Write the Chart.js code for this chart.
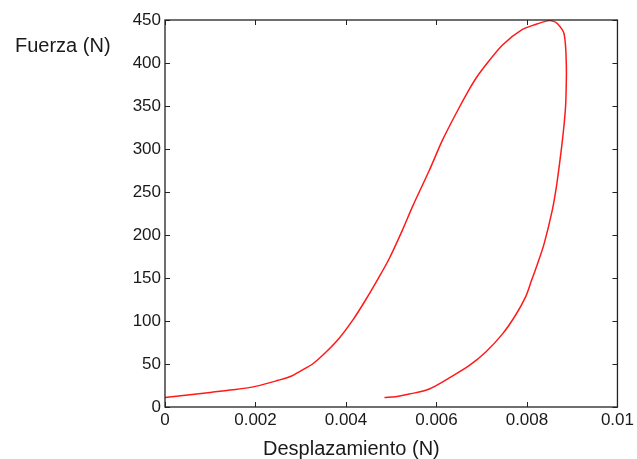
<!DOCTYPE html>
<html>
<head>
<meta charset="utf-8">
<script src="https://cdn.jsdelivr.net/npm/chart.js@4"></script>
<style>
html,body{margin:0;padding:0;background:#fff;}
canvas{display:block;}
</style>
</head>
<body>
<canvas id="c" width="637" height="459"></canvas>
<script>
// Loading branch (displacement, force)
const dispLoad  = [0, 0.0005, 0.001, 0.0015, 0.002, 0.0025, 0.0028, 0.0030, 0.00326, 0.00356, 0.00385, 0.00415, 0.00444, 0.00473, 0.00496, 0.00525, 0.00547, 0.00584, 0.00613, 0.00643, 0.00672, 0.00687, 0.00702, 0.00746, 0.0079, 0.0082, 0.00845];
const forceLoad = [11, 14, 17, 20, 24, 31, 36, 42, 50, 64, 80, 101, 125, 151, 173, 206, 233, 275, 310, 341, 369, 382, 393, 421, 439, 445, 449];
// Unloading branch
const dispUnload  = [0.00845, 0.00855, 0.00867, 0.00882, 0.00887, 0.00886, 0.00884, 0.0088, 0.00873, 0.00865, 0.00856, 0.00838, 0.00823, 0.0081, 0.00797, 0.00775, 0.00746, 0.00709, 0.00672, 0.00635, 0.00584, 0.0054, 0.0051, 0.00485];
const forceUnload = [449, 449, 446, 434, 397, 357, 340, 318, 287, 256, 229, 190, 166, 147, 128, 107, 85, 64, 48, 36, 21, 15, 12, 11];

const xTicks = [0, 0.002, 0.004, 0.006, 0.008, 0.01];
const yTicks = [0, 50, 100, 150, 200, 250, 300, 350, 400, 450];
const xTitle = 'Desplazamiento (N)';
const yTitle = 'Fuerza (N)';

const pts = [];
dispLoad.forEach((x, i) => pts.push({x: x, y: forceLoad[i]}));
dispUnload.forEach((x, i) => { if (i > 0) pts.push({x: x, y: forceUnload[i]}); });

const FONT = 'Arial, "Liberation Sans", sans-serif';
const TXT = '#1a1a1a';

const boxPlugin = {
  id: 'boxPlugin',
  afterDatasetsDraw(chart) {
    const ctx = chart.ctx, a = chart.chartArea;
    const xs = chart.scales.x, ys = chart.scales.y;
    ctx.save();
    ctx.strokeStyle = '#222';
    ctx.lineWidth = 1.3;
    ctx.strokeRect(a.left, a.top, a.right - a.left, a.bottom - a.top);
    ctx.lineWidth = 1;
    const L = 5;
    ctx.beginPath();
    xTicks.forEach(v => {
      const px = Math.round(xs.getPixelForValue(v)) + 0.5;
      ctx.moveTo(px, a.bottom); ctx.lineTo(px, a.bottom - L);
      ctx.moveTo(px, a.top); ctx.lineTo(px, a.top + L);
    });
    yTicks.forEach(v => {
      const py = Math.round(ys.getPixelForValue(v)) + 0.5;
      ctx.moveTo(a.left, py); ctx.lineTo(a.left + L, py);
      ctx.moveTo(a.right, py); ctx.lineTo(a.right - L, py);
    });
    ctx.stroke();
    ctx.fillStyle = TXT;
    ctx.font = '20px ' + FONT;
    ctx.textBaseline = 'middle';
    ctx.textAlign = 'left';
    ctx.fillText(yTitle, 15, 46);
    ctx.fillText(xTitle, 263, 449);
    ctx.restore();
  }
};

new Chart(document.getElementById('c'), {
  type: 'scatter',
  data: {
    datasets: [{
      data: pts,
      showLine: true,
      borderColor: '#ff1a1a',
      borderWidth: 1.5,
      pointRadius: 0,
      tension: 0.3,
      fill: false
    }]
  },
  options: {
    responsive: false,
    animation: false,
    devicePixelRatio: 1,
    layout: { padding: { left: 0, top: 20, right: 18, bottom: 0 } },
    plugins: { legend: { display: false }, tooltip: { enabled: false } },
    scales: {
      x: {
        type: 'linear', min: 0, max: 0.01,
        afterBuildTicks: s => { s.ticks = xTicks.map(v => ({value: v})); },
        afterFit: s => { s.height = 52; },
        grid: { display: false, drawTicks: false },
        border: { display: false },
        ticks: {
          padding: 3, color: TXT, font: { family: FONT, size: 17 },
          maxRotation: 0, autoSkip: false,
          callback: v => String(parseFloat(Number(v).toFixed(4)))
        }
      },
      y: {
        type: 'linear', min: 0, max: 450,
        afterBuildTicks: s => { s.ticks = yTicks.map(v => ({value: v})); },
        afterFit: s => { s.width = 165; },
        grid: { display: false, drawTicks: false },
        border: { display: false },
        ticks: {
          padding: 4, color: TXT, font: { family: FONT, size: 17 },
          autoSkip: false,
          callback: v => String(v)
        }
      }
    }
  },
  plugins: [boxPlugin]
});
</script>
</body>
</html>
